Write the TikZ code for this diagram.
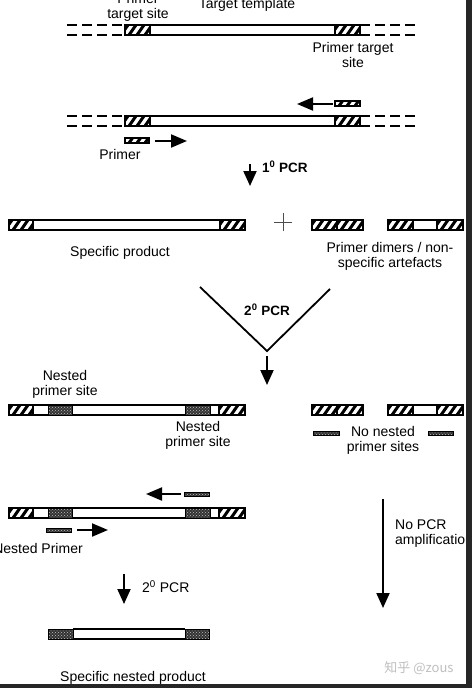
\documentclass[tikz,border=0pt]{standalone}
\usepackage{fontspec}
\setmainfont{Liberation Sans}
\newfontfamily\cjk{Noto Sans CJK SC}
\usetikzlibrary{arrows.meta,patterns,calc}
\tikzset{
 lbl/.style={font=\fontsize{14}{15}\selectfont, align=center, inner sep=0pt},
 bl/.style={font=\bfseries\fontsize{13.5}{15}\selectfont, inner sep=0pt, anchor=west},
 bigarrow/.style={line width=2pt, -{Triangle[length=15pt,width=13pt]}},
 primarrow/.style={line width=2pt, -{Triangle[length=16pt,width=13pt]}},
 dashln/.style={line width=1.2pt, dash pattern=on 10pt off 5pt},
 strandln/.style={line width=1.2pt},
}
% hatched box: x, y(top), w, h
\newcommand{\hatchbx}[4]{%
  \begin{scope}
    \clip (#1,#2) rectangle ++(#3,#4);
    \fill[white] (#1,#2) rectangle ++(#3,#4);
    \foreach \d in {-4,4,12,20}{\draw[line width=3pt] ($(#1,#2)+(\d,#4)$) -- ++(#4*0.7,-#4);}
  \end{scope}
  \draw[line width=1.3pt] (#1,#2) rectangle ++(#3,#4);}
% stippled box
\newcommand{\dotbx}[4]{%
  \fill[black!80] (#1,#2) rectangle ++(#3,#4);
  \fill[pattern=crosshatch dots, pattern color=white!75!black] (#1,#2) rectangle ++(#3,#4);
  \draw[line width=0.9pt] (#1,#2) rectangle ++(#3,#4);}
% open strand: x1, x2, ytop
\newcommand{\strandbx}[3]{%
  \fill[white] (#1,#3) rectangle (#2,#3+10);
  \draw[strandln] (#1,#3) -- (#2,#3) (#1,#3+10) -- (#2,#3+10);}
\begin{document}
\begin{tikzpicture}[x=1pt,y=-1pt]
\useasboundingbox (0,0) rectangle (472,688);
\fill[white] (0,0) rectangle (472,688);

% ---- Row 1: target template
\draw[dashln] (67,25) -- (125,25) (67,35) -- (125,35);
\draw[dashln] (360,25) -- (418,25) (360,35) -- (418,35);
\strandbx{150}{335}{25}
\hatchbx{125}{25}{25}{10}
\hatchbx{335}{25}{25}{10}
\node[lbl] (pts1) at (138,7.5) {Primer\\target site};
\node[lbl] (tt) at (247,5) {Target template};
\node[lbl] (pts2) at (353,54.5) {Primer target\\site};

% ---- Row 2: primers annealing
\draw[dashln] (67,116) -- (125,116) (67,126) -- (125,126);
\draw[dashln] (360,116) -- (418,116) (360,126) -- (418,126);
\strandbx{150}{335}{116}
\hatchbx{125}{116}{25}{10}
\hatchbx{335}{116}{25}{10}
\hatchbx{335}{101}{25}{5}
\hatchbx{125}{138}{24}{5}
\coordinate (ra1) at (333,104); \coordinate (ra2) at (297,104);
\draw[primarrow] (ra1) -- (ra2);
\coordinate (fa1) at (155,141); \coordinate (fa2) at (187,141);
\draw[primarrow] (fa1) -- (fa2);
\node[lbl] (prim) at (120,154) {Primer};

% ---- 1st PCR arrow
\coordinate (p1a) at (250,164); \coordinate (p1b) at (250,186);
\draw[bigarrow] (p1a) -- (p1b);
\node[bl] (pcr1) at (262,167) {1\textsuperscript{0} PCR};

% ---- Row 3: products
\strandbx{33}{220}{220}
\hatchbx{9}{220}{24}{10}
\hatchbx{220}{220}{25}{10}
\draw[line width=1pt, black!70] (274,222) -- (292,222) (283,213) -- (283,231);
\hatchbx{312}{220}{25}{10}
\hatchbx{337}{220}{26}{10}
\strandbx{413}{437}{220}
\hatchbx{388}{220}{25}{10}
\hatchbx{437}{220}{26}{10}
\node[lbl] (sp) at (120,253) {Specific product};
\node[lbl] (pd) at (390,256) {Primer dimers / non-\\specific artefacts};

% ---- V and 2nd PCR
\coordinate (v1) at (200,287); \coordinate (v2) at (267,351); \coordinate (v3) at (330,289);
\draw[line width=1.8pt] (v1) -- (v2) -- (v3);
\node[bl, anchor=center] (pcr2) at (267,310) {2\textsuperscript{0} PCR};
\coordinate (p2a) at (267,356); \coordinate (p2b) at (267,385);
\draw[bigarrow] (p2a) -- (p2b);

% ---- Row 4
\strandbx{33}{219}{405}
\hatchbx{9}{405}{24}{10}
\dotbx{48}{405}{24}{10}
\dotbx{185}{405}{25}{10}
\hatchbx{219}{405}{26}{10}
\hatchbx{312}{405}{25}{10}
\hatchbx{337}{405}{26}{10}
\strandbx{413}{437}{405}
\hatchbx{388}{405}{25}{10}
\hatchbx{437}{405}{26}{10}
\dotbx{313}{431}{26}{4}
\dotbx{428}{431}{25}{4}
\node[lbl] (nps1) at (65,384.5) {Nested\\primer site};
\node[lbl] (nps2) at (198,435.5) {Nested\\primer site};
\node[lbl] (nnps) at (383,440) {No nested\\primer sites};

% ---- Row 5
\strandbx{33}{219}{508}
\hatchbx{9}{508}{24}{10}
\dotbx{48}{508}{24}{10}
\dotbx{185}{508}{25}{10}
\hatchbx{219}{508}{26}{10}
\dotbx{184}{492}{25}{4}
\dotbx{46}{528}{25}{4}
\coordinate (na1) at (181,494); \coordinate (na2) at (146,494);
\draw[primarrow] (na1) -- (na2);
\coordinate (nf1) at (77,530); \coordinate (nf2) at (108,530);
\draw[primarrow] (nf1) -- (nf2);
\node[lbl] (np) at (38,548) {Nested Primer};

% ---- 2nd PCR small
\coordinate (p3a) at (124,574); \coordinate (p3b) at (124,604);
\draw[bigarrow] (p3a) -- (p3b);
\node[lbl, anchor=west] (pcr3) at (142,587) {2\textsuperscript{0} PCR};

% ---- Final product
\strandbx{73}{185}{629}
\dotbx{48}{629}{25}{10}
\dotbx{185}{629}{24}{10}
\node[lbl] (snp) at (133,678) {Specific nested product};

% ---- No PCR amplification
\coordinate (na) at (383,499); \coordinate (nb) at (383,608);
\draw[bigarrow] (na) -- (nb);
\node[lbl, align=left, anchor=west] (npa) at (395,533.5) {No PCR\\amplification};

% ---- watermark
\node[inner sep=0pt, text=black!25, font=\cjk\fontsize{13}{15}\selectfont] (wm) at (419,668) {知乎 @zous};

% ---- dark borders
\fill[black!85] (466,0) rectangle (472,688);
\fill[black!85] (0,684) rectangle (472,688);
\end{tikzpicture}
\end{document}
